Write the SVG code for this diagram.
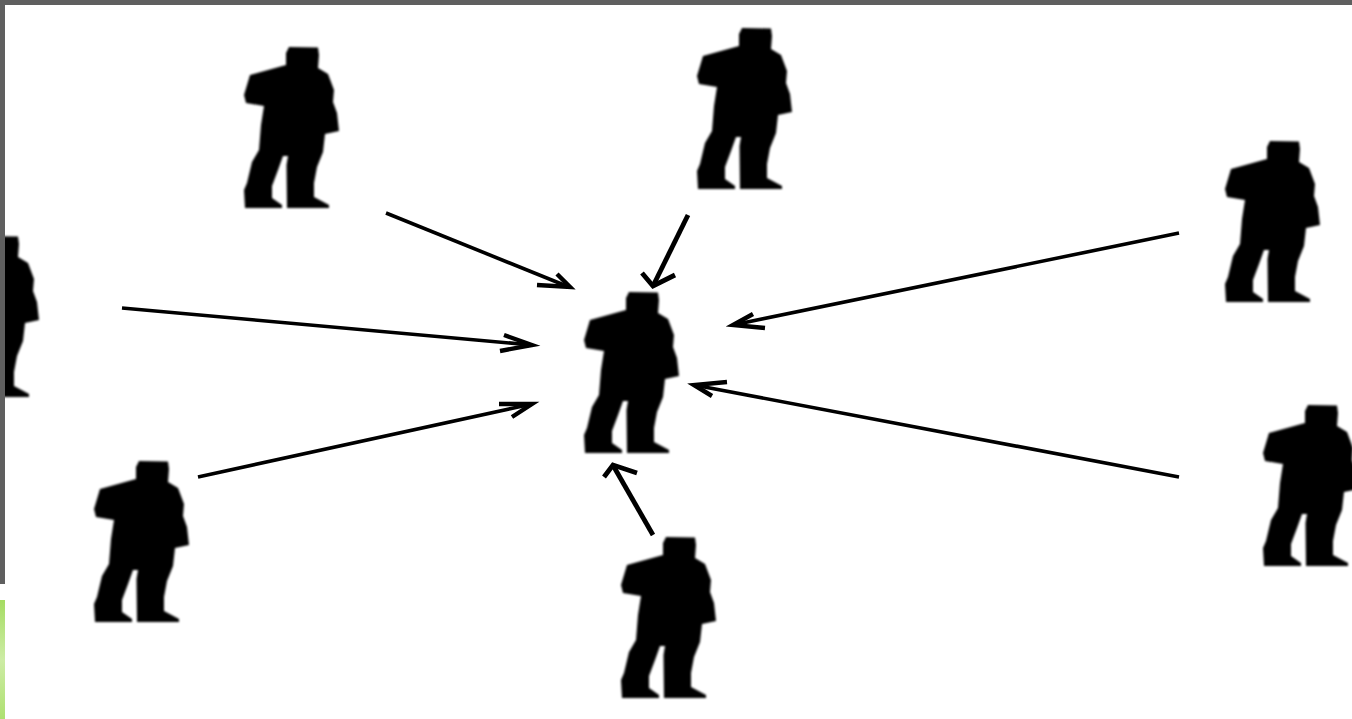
<svg xmlns="http://www.w3.org/2000/svg" width="1352" height="719" viewBox="0 0 1352 719">
<style>
.c{fill:none;stroke:#000;stroke-width:3.6;stroke-linejoin:miter;stroke-miterlimit:8}
.h{stroke-width:4.4}
.t{stroke-width:4.8}
.frame{fill:#5f5f5f}
</style>
<defs>
<filter id="b" x="-10%" y="-10%" width="120%" height="120%"><feGaussianBlur stdDeviation="1"/></filter>
<filter id="s" filterUnits="userSpaceOnUse" x="0" y="0" width="1352" height="719"><feGaussianBlur stdDeviation="0.6"/></filter>
<linearGradient id="g" x1="0" y1="0" x2="0" y2="1"><stop offset="0" stop-color="#a5dc62"/><stop offset="0.5" stop-color="#cdeca5"/><stop offset="1" stop-color="#aee070"/></linearGradient>
<path id="p" filter="url(#b)" d="M289 47 L318 47.500 L319 55 L318 68 L328 74 L334 90 L333 102 L337 113 L339 131 L325 134 L323 152 L317 167 L314 183 L314 197 L329 205 L329 208 L287 208 L286.500 165 L288 156 L283 156 L278 170 L272 186 L272 198 L282 205 L282 208 L245 208 L244 190 L247 183 L252 162 L259 150 L261 125 L264 106 L246 103 L244 95 L250 75 L286 65 L286 53 Z"/>
</defs>
<rect width="1352" height="719" fill="#fff"/>
<g id="person-top-left"><use href="#p"/></g>
<g id="person-top"><use href="#p" x="453" y="-19"/></g>
<g id="person-right-upper"><use href="#p" x="981" y="94"/></g>
<g id="person-center"><use href="#p" x="340" y="245"/></g>
<g id="person-left"><use href="#p" x="-300" y="189"/></g>
<g id="person-bottom-left"><use href="#p" x="-150" y="414"/></g>
<g id="person-bottom"><use href="#p" x="377" y="490"/></g>
<g id="person-right-lower"><use href="#p" x="1019" y="358"/></g>
<g id="connectors" filter="url(#s)">
<path class="c" d="M386 213 L569 287"/><path class="c h" d="M537 285 L570 287 L557 274"/>
<path class="c t" d="M688 215 L654 284"/><path class="c t" d="M642 273 L653 286 L675 275"/>
<path class="c" d="M1179 233 L733 325"/><path class="c h" d="M753 314 L733 325 L765 328"/>
<path class="c" d="M122 308 L532 345"/><path class="c h" d="M504 335 L532 345 L500 351"/>
<path class="c" d="M198 477 L532 404"/><path class="c h" d="M499 404 L532 404 L512 417"/>
<path class="c" d="M1179 477 L694 385"/><path class="c h" d="M727 382 L694 385 L712 396"/>
<path class="c t" d="M653 535 L614 467"/><path class="c t" d="M604 477 L613 465 L637 473"/>
</g>
<g id="frame">
<rect class="frame" x="0" y="0" width="1352" height="5"/>
<rect class="frame" x="0" y="0" width="5" height="584"/>
<rect x="0" y="600" width="5" height="119" fill="url(#g)"/>
</g>
</svg>
